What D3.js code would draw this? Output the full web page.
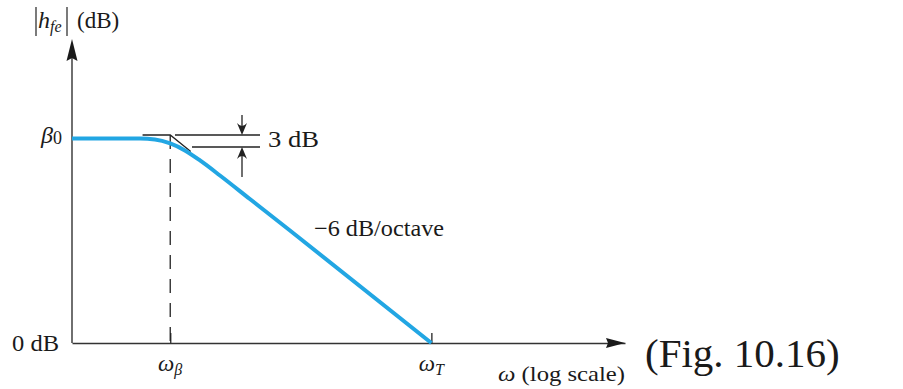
<!DOCTYPE html>
<html>
<head>
<meta charset="utf-8">
<script src="https://cdn.jsdelivr.net/npm/d3@7"></script>
<style>
  body { margin: 0; background: #fff; }
  text { font-family: "Liberation Serif", "Times New Roman", serif; fill: #1a1a1a; }
</style>
</head>
<body>
<svg id="chart" width="903" height="389"></svg>
<script>
// Common-emitter current gain |hfe| versus frequency (ω normalised to ωβ)
const omega  = [0.105, 0.5, 0.704, 1, 1.40, 1.98, 3.13, 6.22, 15.6, 400];
const gainDb = [51.1, 51.1, 50.88, 49.88, 48.13, 45.63, 41.88, 36.0, 28.13, 0];

// Straight-line asymptote near the corner frequency
const asymOmega = [0.53, 1, 1.6];
const asymDb    = [52, 52, 47.9];

const beta0Db   = 52;       // low-frequency gain β0
const dropDb    = 3;        // gain drop at ωβ
const omegaBeta = 1;
const omegaT    = 400;
const omegaAxis = [0.105, 34000];

const xTickValues = [omegaBeta, omegaT];
const xTickLabels = [["ω", "β"], ["ω", "T"]];
const yTickValues = [beta0Db, 0];

const BLUE = "#22a6e3";
const INK  = "#222";

const svg = d3.select("#chart");
const X0 = 72, X1 = 625, Y0 = 343, YTOP = 39;

const x = d3.scaleLog().domain(omegaAxis).range([X0, X1]);
const y = d3.scaleLinear().domain([0, beta0Db]).range([Y0, 135]);

// ---- x axis with upward ticks at ωβ and ωT ----
const gx = svg.append("g")
  .attr("transform", `translate(0,${Y0})`)
  .call(d3.axisBottom(x).tickValues(xTickValues).tickSize(-10)
        .tickSizeOuter(0).tickFormat(""));
gx.select(".domain").attr("stroke", "#333").attr("stroke-width", 1.4);
gx.selectAll(".tick line").attr("stroke", "#333").attr("stroke-width", 1.4);

svg.append("path")
  .attr("d", `M${X1},${Y0} L${X1 - 19},${Y0 - 5} L${X1 - 17},${Y0} L${X1 - 19},${Y0 + 5} Z`)
  .attr("fill", "#1a1a1a");

// tick labels ω_β, ω_T
xTickValues.forEach((v, i) => {
  const t = svg.append("text")
    .attr("x", x(v)).attr("y", 371)
    .attr("text-anchor", "middle")
    .attr("font-size", 23);
  t.append("tspan").attr("font-style", "italic").text(xTickLabels[i][0]);
  t.append("tspan").attr("font-style", "italic").attr("font-size", 16)
    .attr("dy", 4).text(xTickLabels[i][1]);
});

// axis title
const xt = svg.append("text").attr("x", 498).attr("y", 381)
  .attr("font-size", 21).attr("textLength", 127).attr("lengthAdjust", "spacingAndGlyphs");
xt.append("tspan").attr("font-style", "italic").text("ω");
xt.append("tspan").text(" (log scale)");

// ---- y axis with arrow ----
svg.append("line")
  .attr("x1", X0).attr("x2", X0).attr("y1", Y0).attr("y2", YTOP + 18)
  .attr("stroke", "#333").attr("stroke-width", 1.4);
svg.append("path")
  .attr("d", `M${X0},${YTOP} L${X0 - 5.5},${YTOP + 22} L${X0},${YTOP + 19} L${X0 + 5.5},${YTOP + 22} Z`)
  .attr("fill", "#1a1a1a");

// y labels β0 and 0 dB
const yb = svg.append("text").attr("x", 62).attr("y", y(yTickValues[0]) + 8)
  .attr("text-anchor", "end").attr("font-size", 24);
yb.append("tspan").attr("font-style", "italic").text("β");
yb.append("tspan").attr("font-size", 18).attr("dy", 1).text("0");

svg.append("text").attr("x", 12).attr("y", y(yTickValues[1]) + 8)
  .attr("font-size", 23).attr("textLength", 47).attr("lengthAdjust", "spacingAndGlyphs")
  .text("0 dB");

// y title |hfe| (dB)
svg.append("line").attr("x1", 36).attr("x2", 36).attr("y1", 7).attr("y2", 36)
  .attr("stroke", INK).attr("stroke-width", 1.2);
svg.append("line").attr("x1", 67).attr("x2", 67).attr("y1", 7).attr("y2", 36)
  .attr("stroke", INK).attr("stroke-width", 1.2);
const yt = svg.append("text").attr("x", 38).attr("y", 28).attr("font-size", 24);
yt.append("tspan").attr("font-style", "italic").text("h");
yt.append("tspan").attr("font-style", "italic").attr("font-size", 16).attr("dy", 4).text("fe");
svg.append("text").attr("x", 77).attr("y", 28).attr("font-size", 23).text("(dB)");

// ---- dashed marker at ωβ ----
svg.append("line")
  .attr("x1", x(omegaBeta)).attr("x2", x(omegaBeta))
  .attr("y1", y(beta0Db)).attr("y2", y(0))
  .attr("stroke", INK).attr("stroke-width", 1.3)
  .attr("stroke-dasharray", "14,10");

// ---- asymptote segments ----
svg.append("path")
  .datum(asymOmega.map((w, i) => [w, asymDb[i]]))
  .attr("d", d3.line().x(d => x(d[0])).y(d => y(d[1])))
  .attr("fill", "none").attr("stroke", INK).attr("stroke-width", 1.3);

// ---- response curve ----
svg.append("path")
  .datum(omega.map((w, i) => [w, gainDb[i]]))
  .attr("d", d3.line().x(d => x(d[0])).y(d => y(d[1])).curve(d3.curveMonotoneX))
  .attr("fill", "none").attr("stroke", BLUE).attr("stroke-width", 4)
  .attr("stroke-linecap", "butt");

// ---- 3 dB dimension ----
const yU = y(beta0Db), yL = y(beta0Db - dropDb);
svg.append("line").attr("x1", 175).attr("x2", 260).attr("y1", yU).attr("y2", yU)
  .attr("stroke", INK).attr("stroke-width", 1.3);
svg.append("line").attr("x1", 192).attr("x2", 260).attr("y1", yL).attr("y2", yL)
  .attr("stroke", INK).attr("stroke-width", 1.3);

const AX = 242;
// downward arrow onto the upper line
svg.append("line").attr("x1", AX).attr("x2", AX).attr("y1", 115).attr("y2", yU - 4)
  .attr("stroke", INK).attr("stroke-width", 1.3);
svg.append("path")
  .attr("d", `M${AX},${yU} L${AX - 5},${yU - 12} Q${AX},${yU - 6} ${AX + 5},${yU - 12} Z`)
  .attr("fill", INK);
// upward arrow onto the lower line
svg.append("line").attr("x1", AX).attr("x2", AX).attr("y1", 177).attr("y2", yL + 4)
  .attr("stroke", INK).attr("stroke-width", 1.3);
svg.append("path")
  .attr("d", `M${AX},${yL} L${AX - 5},${yL + 12} Q${AX},${yL + 6} ${AX + 5},${yL + 12} Z`)
  .attr("fill", INK);

svg.append("text").attr("x", 268).attr("y", yL).attr("font-size", 23)
  .attr("textLength", 51).attr("lengthAdjust", "spacingAndGlyphs")
  .text(`${dropDb} dB`);

// ---- slope annotation ----
svg.append("text").attr("x", 314).attr("y", 236).attr("font-size", 23)
  .attr("textLength", 130).attr("lengthAdjust", "spacingAndGlyphs")
  .text("−6 dB/octave");

// ---- figure reference ----
svg.append("text").attr("x", 645).attr("y", 367).attr("font-size", 41)
  .text("(Fig. 10.16)");
</script>
</body>
</html>
